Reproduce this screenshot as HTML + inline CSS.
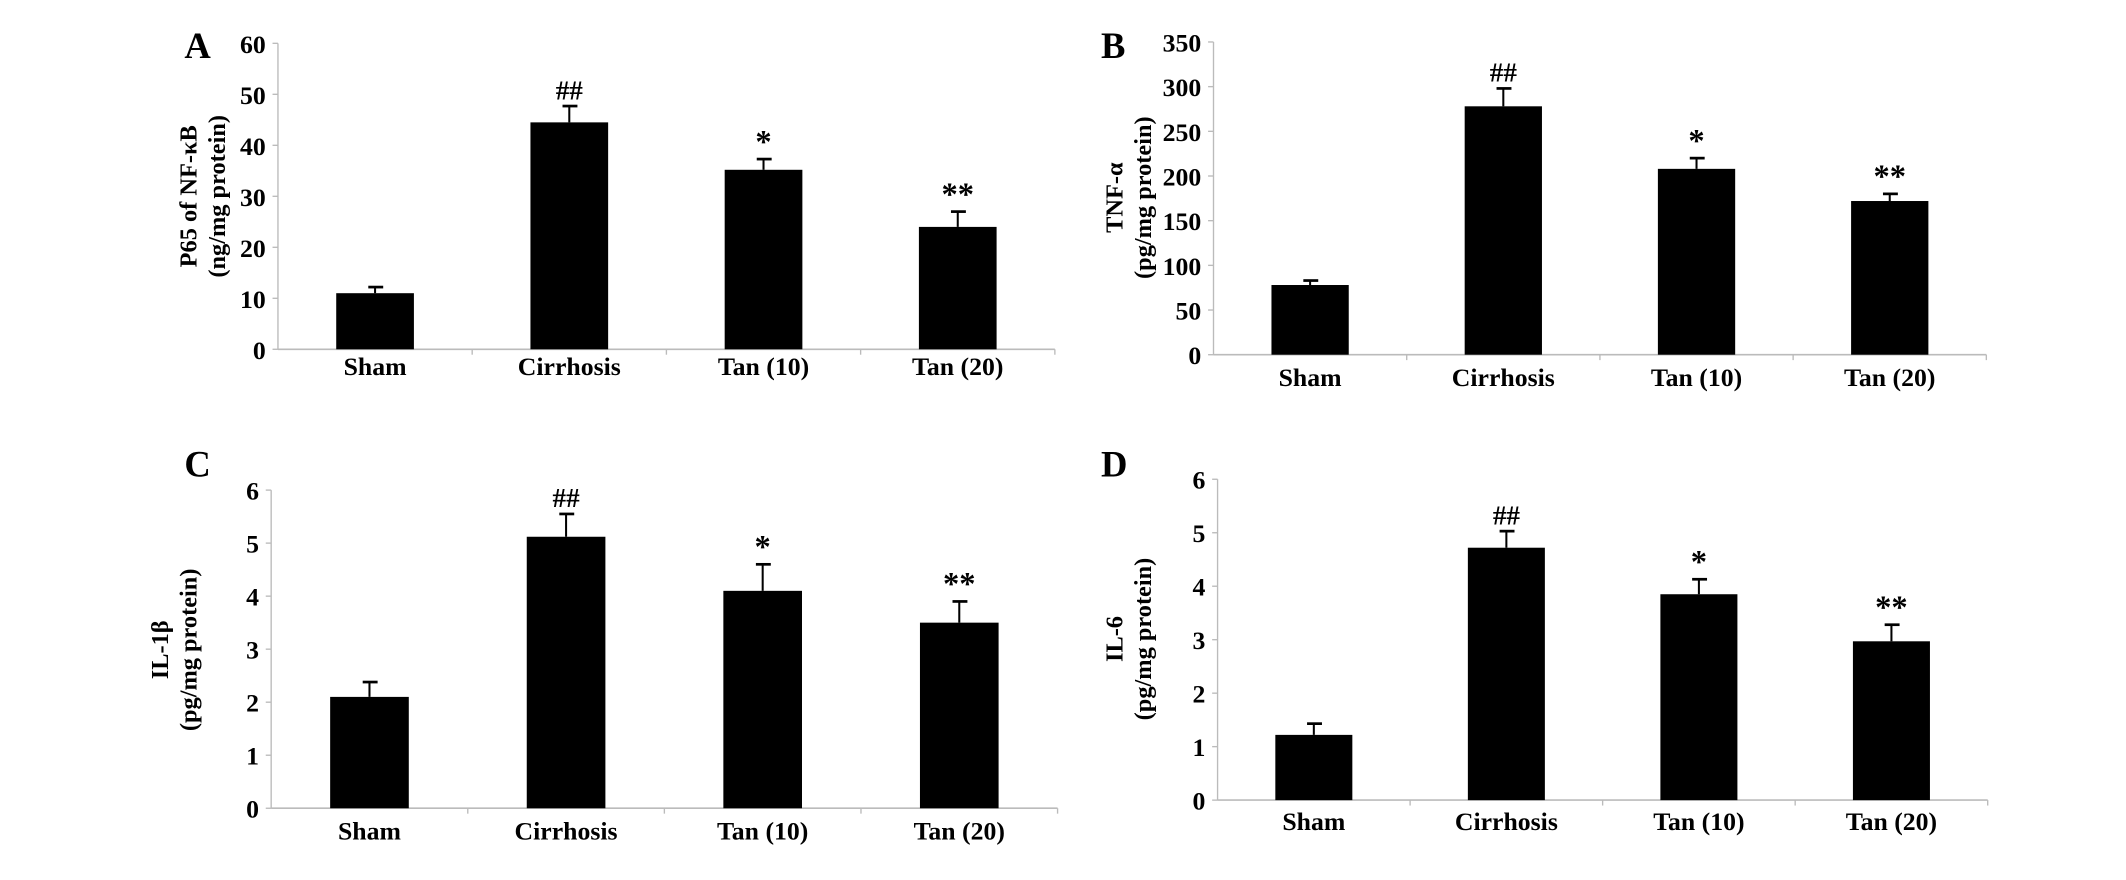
<!DOCTYPE html>
<html><head><meta charset="utf-8"><style>
html,body{margin:0;padding:0;background:#fff;}
svg{display:block;}
text{font-family:"Liberation Serif",serif;font-weight:bold;fill:#000;}
</style></head><body>
<svg id="fig" width="2126" height="880" viewBox="0 0 1568 650" preserveAspectRatio="none" xmlns="http://www.w3.org/2000/svg"></svg>
<script>
const categories = ["Sham","Cirrhosis","Tan (10)","Tan (20)"];
const valuesA = [11, 44.5, 35.2, 24];
const errorsA = [12.2, 47.7, 37.3, 27];
const ticksA = [0,10,20,30,40,50,60];
const valuesB = [78, 278, 208, 172];
const errorsB = [83, 298, 220, 180];
const ticksB = [0,50,100,150,200,250,300,350];
const valuesC = [2.1, 5.12, 4.1, 3.5];
const errorsC = [2.38, 5.55, 4.6, 3.9];
const ticksC = [0,1,2,3,4,5,6];
const valuesD = [1.22, 4.72, 3.85, 2.97];
const errorsD = [1.43, 5.03, 4.13, 3.28];
const ticksD = [0,1,2,3,4,5,6];
const marks = ["", "##", "*", "**"];

const NS = "http://www.w3.org/2000/svg";
const svg = document.getElementById('fig');
function mk(tag, attrs, parent){
  const e = document.createElementNS(NS, tag);
  for (const k in attrs) e.setAttribute(k, attrs[k]);
  (parent||svg).appendChild(e);
  return e;
}
const panels = [
  {id:"a", letter:"A", vals:valuesA, errs:errorsA, ticks:ticksA, x0:205, x1:778, yTop:32, yBot:258, lx:136, ly:43, t1:"P65 of NF-κB", t2:"(ng/mg protein)", tx:145, ty:145, catY:277},
  {id:"b", letter:"B", vals:valuesB, errs:errorsB, ticks:ticksB, x0:895, x1:1465, yTop:31, yBot:262, lx:812, ly:43, t1:"TNF-α", t2:"(pg/mg protein)", tx:828, ty:146, catY:285},
  {id:"c", letter:"C", vals:valuesC, errs:errorsC, ticks:ticksC, x0:200, x1:780, yTop:362, yBot:597, lx:136, ly:352, t1:"IL-1β", t2:"(pg/mg protein)", tx:124, ty:480, catY:620},
  {id:"d", letter:"D", vals:valuesD, errs:errorsD, ticks:ticksD, x0:898, x1:1466, yTop:354, yBot:591, lx:812, ly:352, t1:"IL-6", t2:"(pg/mg protein)", tx:828, ty:472, catY:613}
];
panels.forEach(p=>{
  const g = mk('g',{});
  
  
  const maxT = p.ticks[p.ticks.length-1];
  const ys = v => p.yBot - (v/maxT)*(p.yBot-p.yTop);
  const band = (p.x1-p.x0)/categories.length;
  const xc = i => p.x0 + band*(i+0.5);
  const bw = band*0.40;
  const L = mk('text',{x:p.lx,y:p.ly,'font-size':27},g); L.textContent=p.letter;
  
  
  const yax = mk('line',{x1:p.x0,y1:p.yTop,x2:p.x0,y2:p.yBot,stroke:'#bbb','stroke-width':1},g);
  
  
  const xax = mk('line',{x1:p.x0,y1:p.yBot,x2:p.x1,y2:p.yBot,stroke:'#bbb','stroke-width':1.2},g);
  
  
  p.ticks.forEach(t=>{
    mk('line',{x1:p.x0-4,y1:ys(t),x2:p.x0,y2:ys(t),stroke:'#bbb'},g);
    const tl = mk('text',{x:p.x0-9,y:ys(t)+7,'font-size':19,'text-anchor':'end'},g);
    tl.textContent = t;
    
    
  });
  for(let i=1;i<=categories.length;i++){
    mk('line',{x1:p.x0+band*i,y1:p.yBot,x2:p.x0+band*i,y2:p.yBot+4,stroke:'#bbb'},g);
  }
  const yt = mk('text',{transform:`translate(${p.tx},${p.ty}) rotate(-90)`,'font-size':18,'text-anchor':'middle'},g);
  
  
  const s1 = mk('tspan',{x:0,y:0},yt); s1.textContent=p.t1;
  const s2 = mk('tspan',{x:0,y:21},yt); s2.textContent=p.t2;
  categories.forEach((c,i)=>{
    const x = xc(i);
    const eb = mk('line',{x1:x,y1:ys(p.errs[i]),x2:x,y2:ys(p.vals[i]),stroke:'#000','stroke-width':1.5},g);
    
    
    mk('line',{x1:x-5,y1:ys(p.errs[i]),x2:x+6,y2:ys(p.errs[i]),stroke:'#000','stroke-width':2},g);
    const r = mk('rect',{x:x-bw/2,y:ys(p.vals[i]),width:bw,height:p.yBot-ys(p.vals[i]),fill:'#000'},g);
    
    
    if(marks[i]){
      const m = mk('text',{x:x,y:ys(p.errs[i])-5,'font-size':marks[i]==='##'?20:24,'text-anchor':'middle','font-weight':'normal'},g);
      m.textContent = marks[i];
      
      
    }
    const cl = mk('text',{x:x,y:p.catY,'font-size':19,'text-anchor':'middle'},g);
    cl.textContent = c;
    
    
  });
});
</script>
</body></html>
